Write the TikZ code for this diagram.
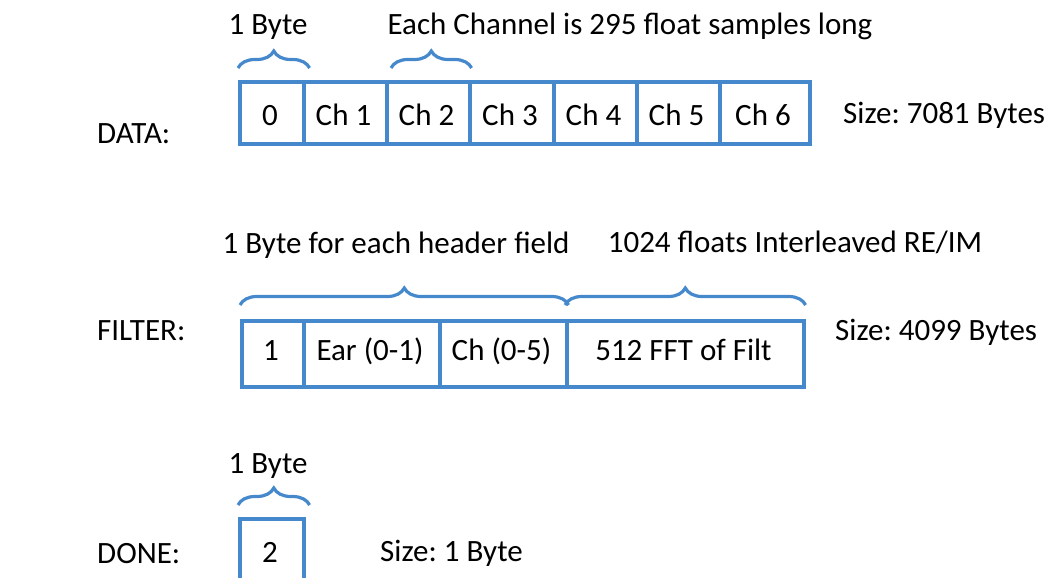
\documentclass[tikz,border=0pt]{standalone}
\usepackage{fontspec}
\setmainfont{Carlito}
\usetikzlibrary{decorations.pathreplacing}
\definecolor{boxblue}{RGB}{70,136,204}
\begin{document}
\frenchspacing
\begin{tikzpicture}[x=1pt,y=-1pt,
  every node/.style={font=\fontsize{31}{37}\selectfont, text=black},
  cell/.style={draw=boxblue, line width=3.6pt, inner sep=0pt, anchor=north west},
  lbl/.style={inner sep=0pt, anchor=base west},
  clbl/.style={inner sep=0pt, anchor=base},
  brc/.style={draw=boxblue, line width=3.2pt, decorate, decoration={brace, amplitude=17pt}}]
\useasboundingbox (0,0) rectangle (1052,578);
\clip (0,0) rectangle (1052,578);
% ---------- DATA ----------
\node[lbl] (dlab) at (97,143) {DATA:};
\foreach \n/\a/\b/\t in {d0/238/302/0, d1/302/385/Ch 1, d2/385/468/Ch 2, d3/468/552/Ch 3, d4/552/635/Ch 4, d5/635/718/Ch 5, d6/718/808/Ch 6}{
  \node[cell, minimum width={\b-\a}, minimum height=62] (\n) at (\a,80) {};
  \node[clbl] (\n t) at ({(\a+\b)/2},125) {\t};
}
\node[lbl] (dsize) at (843,123) {Size: 7081 Bytes};
\draw[brc] ([yshift=12pt]d0.north west) -- ([yshift=12pt,xshift=4pt]d0.north east);
\draw[brc] ([yshift=12pt,xshift=6pt]d2.north west) -- ([yshift=12pt]d2.north east);
\node[clbl] (dbyte) at (268,35) {1 Byte};
\node[clbl] (dch) at (630,35) {Each Channel is 295 float samples long};
% ---------- FILTER ----------
\node[lbl] (flab) at (97,340) {FILTER:};
\foreach \n/\a/\b/\t in {f0/240/302/1, f1/302/438/Ear (0-1), f2/438/565/Ch (0-5), f3/565/802/512 FFT of Filt}{
  \node[cell, minimum width={\b-\a}, minimum height=66] (\n) at (\a,319) {};
  \node[clbl] (\n t) at ({(\a+\b)/2},360) {\t};
}
\node[lbl] (fsize) at (835,340) {Size: 4099 Bytes};
\draw[brc] ([yshift=14pt]f0.north west) -- ([yshift=14pt]f2.north east);
\draw[brc] ([yshift=14pt]f3.north west) -- ([yshift=14pt]f3.north east);
\node[clbl] (fhead) at (396,253) {1 Byte for each header field};
\node[clbl] (ffl) at (795,252) {1024 floats Interleaved RE/IM};
% ---------- DONE ----------
\node[lbl] (olab) at (97,563) {DONE:};
\node[cell, minimum width=64, minimum height=63] (o0) at (238,517) {};
\node[clbl] (o0t) at (270,562) {2};
\node[lbl] (osize) at (380,561) {Size: 1 Byte};
\draw[brc] ([yshift=12pt]o0.north west) -- ([yshift=12pt,xshift=4pt]o0.north east);
\node[clbl] (obyte) at (268,473) {1 Byte};
\end{tikzpicture}
\end{document}
